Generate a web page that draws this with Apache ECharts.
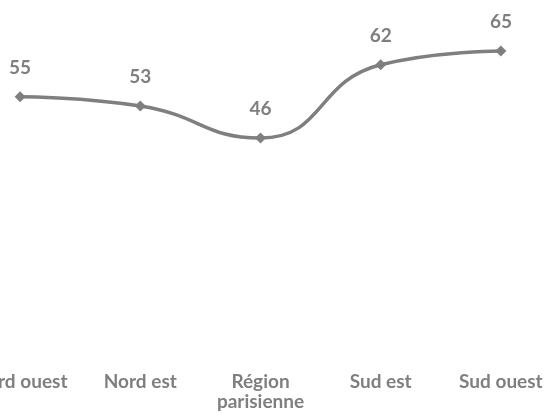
<!DOCTYPE html>
<html><head><meta charset="utf-8">
<script src="https://cdn.jsdelivr.net/npm/echarts@6/dist/echarts.min.js"></script>
<style>html,body{margin:0;padding:0;background:#fff;overflow:hidden}#c{width:601px;height:415px;margin-left:-40px}</style>
</head><body><div id="c"></div>
<script>
const categories = ['Nord ouest', 'Nord est', 'Région\nparisienne', 'Sud est', 'Sud ouest'];
const values = [55, 53, 46, 62, 65];
const chart = echarts.init(document.getElementById('c'), null, {renderer: 'canvas'});
const font = 'Lato, "Open Sans", sans-serif';
chart.setOption({
  animation: false,
  backgroundColor: '#fff',
  grid: {left: 0, right: 0, top: 28, bottom: 66, containLabel: false},
  xAxis: {
    type: 'category', data: categories, boundaryGap: true,
    axisLine: {show: false}, axisTick: {show: false},
    axisLabel: {color: '#7f7f7f', fontFamily: font, fontWeight: 'bold', fontSize: 19, margin: 23, lineHeight: 20, interval: 0}
  },
  yAxis: {type: 'value', min: 0, max: 70, show: false, splitLine: {show: false}},
  series: [{
    type: 'line', data: values, smooth: 0.5,
    symbol: 'diamond', symbolSize: 11,
    lineStyle: {color: '#7f7f7f', width: 3.5},
    itemStyle: {color: '#7f7f7f'},
    label: {show: true, position: 'top', distance: 14, color: '#7f7f7f', fontFamily: font, fontWeight: 'bold', fontSize: 19}
  }]
});
</script></body></html>
